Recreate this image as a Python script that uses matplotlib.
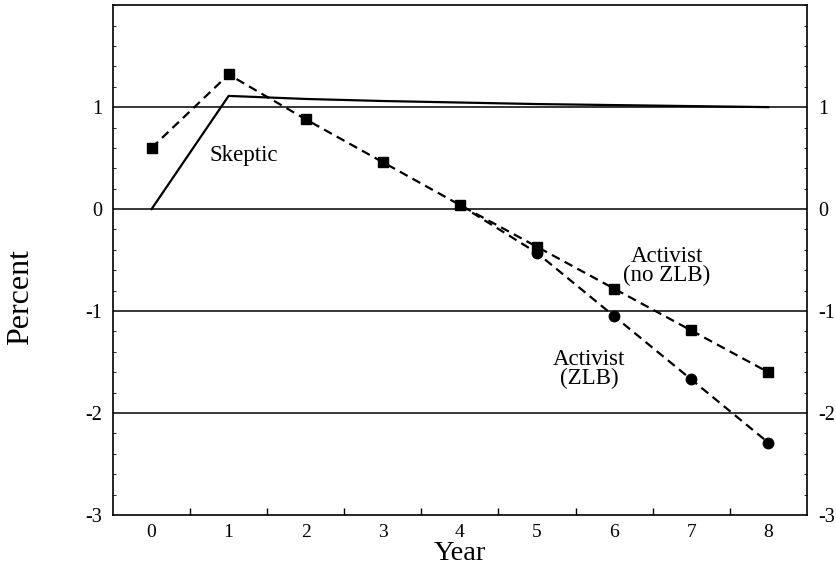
import matplotlib
matplotlib.use("Agg")
from matplotlib import pyplot as plt
from matplotlib.ticker import MultipleLocator

years = [0, 1, 2, 3, 4, 5, 6, 7, 8]
skeptic = [0.0, 1.11, 1.08, 1.06, 1.045, 1.03, 1.02, 1.01, 1.0]
activist_no_zlb = [0.60, 1.32, 0.88, 0.46, 0.04, -0.37, -0.78, -1.19, -1.60]
zlb_years = [4, 5, 6, 7, 8]
activist_zlb = [0.04, -0.43, -1.05, -1.67, -2.29]

plt.rcParams['font.family'] = ['Liberation Serif', 'DejaVu Serif']

fig = plt.figure(figsize=(8.37, 5.71), dpi=100)
ax = fig.add_axes([0.135, 0.098, 0.829, 0.893])

for yv in [1, 0, -1, -2]:
    ax.axhline(yv, color='black', lw=1.1, zorder=1)

ax.plot(years, skeptic, color='black', lw=1.6, zorder=3)
ax.plot(years, activist_no_zlb, color='black', lw=1.6, ls=(0, (4, 2.5)),
        marker='s', ms=7, zorder=4)
ax.plot(zlb_years, activist_zlb, color='black', lw=1.6, ls=(0, (4, 2.5)),
        marker='o', ms=7.5, markevery=[1, 2, 3, 4], zorder=4)

ax.text(1.19, 0.53, "Skeptic", fontsize=16.5, ha='center', va='center')
ax.text(6.68, -0.56, "Activist\n(no ZLB)", fontsize=16.5, ha='center', va='center',
        linespacing=0.9)
ax.text(5.68, -1.57, "Activist\n(ZLB)", fontsize=16.5, ha='center', va='center',
        linespacing=0.9)

ax.set_xlim(-0.5, 8.5)
ax.set_ylim(-3, 2)
ax.set_xticks(years)
ax.set_xticks([x + 0.5 for x in years[:-1]], minor=True)
ax.set_yticks([-3, -2, -1, 0, 1])
ax.yaxis.set_minor_locator(MultipleLocator(0.2))
ax.tick_params(axis='x', which='major', length=0, labelsize=14, pad=6.5)
ax.tick_params(axis='x', which='minor', direction='in', length=5, width=1)
ax.tick_params(axis='y', which='major', length=0, labelsize=14.5, pad=8,
               right=True, labelright=True)
ax.tick_params(axis='y', which='minor', direction='in', length=2, width=0.6,
               right=True)
ax.set_yticklabels(['-3', '-2', '-1', '0', '1'])

for s in ax.spines.values():
    s.set_linewidth(1.2)

ax.set_xlabel("Year", fontsize=20.5, labelpad=0)
ax.set_ylabel("Percent", fontsize=23)
ax.yaxis.set_label_coords(-0.112, 0.427)

fig.savefig("out.png", dpi=100)
